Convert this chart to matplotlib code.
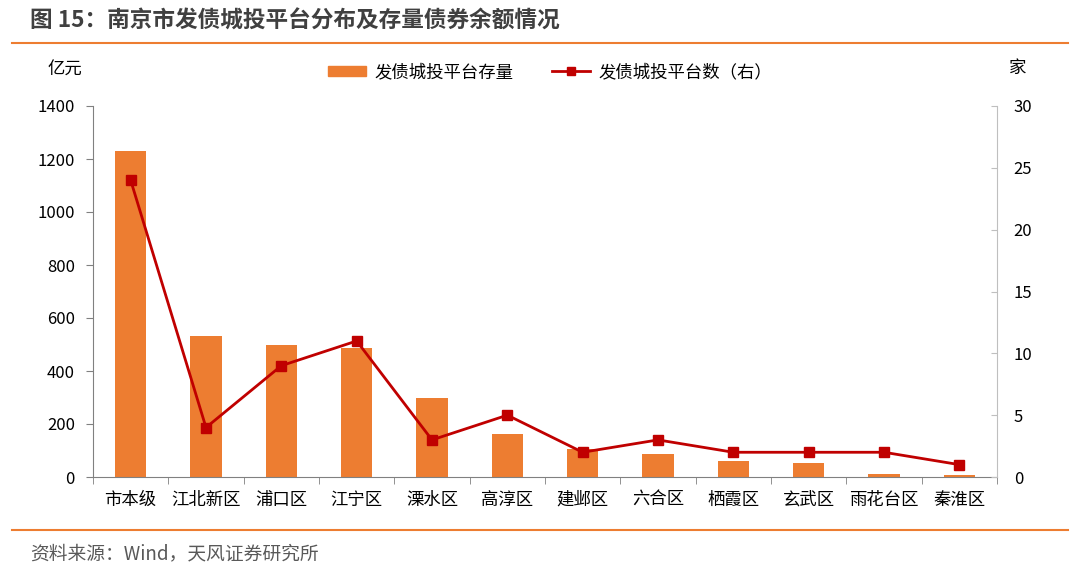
import matplotlib
matplotlib.use("Agg")
import matplotlib.pyplot as plt
import numpy as np
from matplotlib.lines import Line2D

plt.rcParams['font.family'] = ['Noto Sans CJK SC', 'DejaVu Sans']

categories = ["市本级", "江北新区", "浦口区", "江宁区", "溧水区", "高淳区", "建邺区",
              "六合区", "栖霞区", "玄武区", "雨花台区", "秦淮区"]
stock = [1230, 532, 500, 487, 298, 163, 106, 87, 60, 54, 12, 7]
count = [24, 4, 9, 11, 3, 5, 2, 3, 2, 2, 2, 1]
left_ticks = [0, 200, 400, 600, 800, 1000, 1200, 1400]
right_ticks = [0, 5, 10, 15, 20, 25, 30]

bar_color = "#ED7D31"
line_color = "#C00000"

fig = plt.figure(figsize=(10.8, 5.76), dpi=100)
ax = fig.add_axes([93/1080, 1-477/576, (997-93)/1080, (477-106)/576])
x = np.arange(len(categories))
ax.bar(x, stock, width=0.42, color=bar_color, zorder=2, label="发债城投平台存量")
ax.set_xlim(-0.5, len(categories)-0.5)
ax.set_ylim(0, 1400)
ax.set_yticks(left_ticks)
ax.set_xticks(x)
ax.set_xticklabels(categories, fontsize=12.5)
ax.tick_params(axis='x', length=0, pad=10)
ax.set_xticks(np.arange(-0.5, len(categories)), minor=True)
ax.tick_params(axis='x', which='minor', length=5, direction='out', color='#808080')
ax.tick_params(axis='y', labelsize=12, length=5, direction='out', color='#808080', pad=8)
for s in ['top', 'right']:
    ax.spines[s].set_visible(False)
ax.spines['left'].set_color('#808080')
ax.spines['bottom'].set_color('#808080')

ax2 = ax.twinx()
ax2.plot(x, count, color=line_color, lw=2, marker='s', markersize=7, zorder=3,
         label="发债城投平台数（右）")
ax2.set_ylim(0, 30)
ax2.set_yticks(right_ticks)
ax2.tick_params(axis='y', labelsize=12, length=4, direction='in', color='#BFBFBF', pad=12)
for s in ['top', 'left', 'bottom']:
    ax2.spines[s].set_visible(False)
ax2.spines['right'].set_color('#BFBFBF')

fig.text(48/1080, 1-70/576, "亿元", fontsize=12.5, ha='left', va='center')
fig.text(1018/1080, 1-68/576, "家", fontsize=12.5, ha='center', va='center')

handles = [plt.Rectangle((0, 0), 1, 1, color=bar_color),
           Line2D([0], [0], color=line_color, lw=2, marker='s', markersize=6)]
fig.legend(handles, ["发债城投平台存量", "发债城投平台数（右）"], loc='center',
           bbox_to_anchor=(550/1080, 1-72/576), ncol=2, frameon=False, fontsize=12.5,
           handlelength=2.2, handleheight=0.5, columnspacing=2.2, handletextpad=0.5)

fig.text(30/1080, 1-21/576, "图 15：南京市发债城投平台分布及存量债券余额情况", fontsize=16.3,
         fontweight='bold', color='#404040', ha='left', va='center')
fig.add_artist(Line2D([12/1080, 1068/1080], [1-43/576, 1-43/576], color='#ED7D31', lw=1.5))
fig.add_artist(Line2D([12/1080, 1068/1080], [1-530/576, 1-530/576], color='#ED7D31', lw=1.5))
fig.text(30/1080, 1-554/576, "资料来源：Wind，天风证券研究所", fontsize=13.5, color='#595959',
         ha='left', va='center')

fig.savefig("out.png", dpi=100)
